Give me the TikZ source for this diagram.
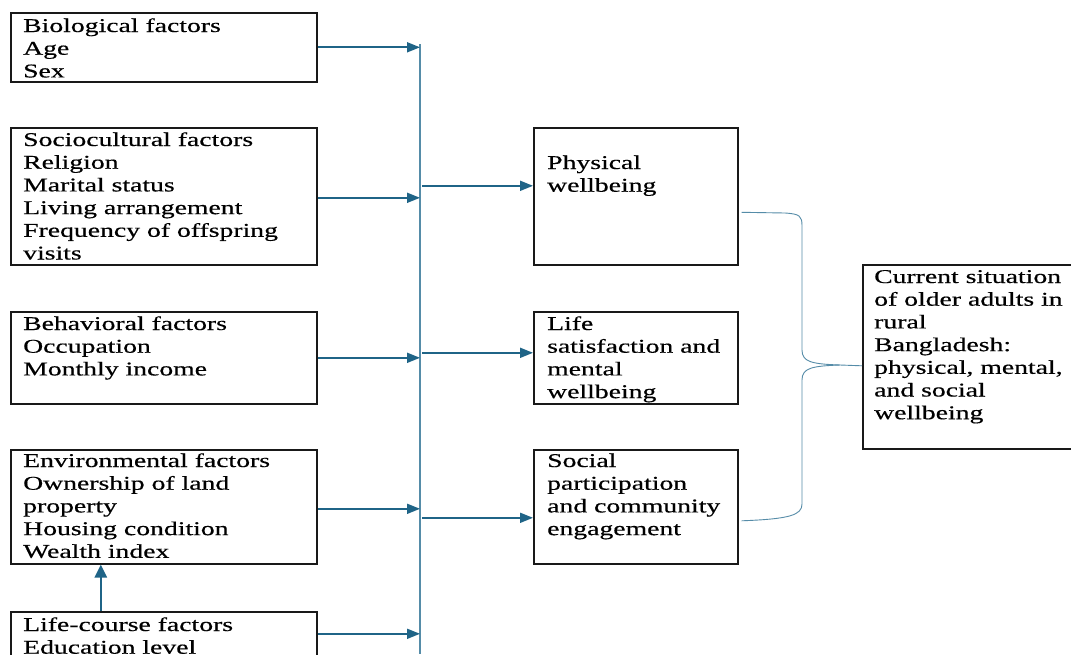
\documentclass[tikz,border=0pt]{standalone}
\usepackage{fontspec}
\setmainfont[FakeStretch=1.42,FakeBold=0.5]{Liberation Serif}
\usetikzlibrary{arrows.meta,calc}
\definecolor{arrowcol}{RGB}{31,100,135}
\definecolor{linecol}{RGB}{85,140,168}
\newcommand{\boxlines}[1]{\begin{tabular}[t]{@{}l@{}}#1\end{tabular}}
\begin{document}
\begin{tikzpicture}[x=1pt,y=-1pt,
  box/.style={draw=black!90,line width=1.6pt,rectangle,inner sep=0pt,anchor=north west},
  txt/.style={anchor=base west,inner sep=0pt,font=\fontsize{19.5}{22.7}\selectfont},
  arr/.style={draw=arrowcol,line width=1.8pt,-{Triangle[length=13pt,width=10pt]}},
  bigarr/.style={draw=arrowcol,line width=2.6pt,-{Triangle[length=13pt,width=12pt]}},
  bus/.style={draw=linecol,line width=1.4pt},
  brace/.style={draw=linecol,line width=0.9pt}]
\useasboundingbox[fill=white] (0,0) rectangle (1071,654);
% left boxes
\node[box,minimum width=306pt,minimum height=69pt] (b1) at (10,12) {};
\node[box,minimum width=306pt,minimum height=137pt] (b2) at (10,127) {};
\node[box,minimum width=306pt,minimum height=92pt] (b3) at (10,311) {};
\node[box,minimum width=306pt,minimum height=114pt] (b4) at (10,449) {};
\node[box,minimum width=306pt,minimum height=44pt] (b5) at (10,611) {};
% middle boxes
\node[box,minimum width=204pt,minimum height=137pt] (m1) at (533,127) {};
\node[box,minimum width=204pt,minimum height=92pt] (m2) at (533,311) {};
\node[box,minimum width=204pt,minimum height=114pt] (m3) at (533,449) {};
% right box
\node[box,minimum width=214pt,minimum height=184pt] (r) at (862,264) {};
% texts
\node[txt] (b1t) at ([xshift=13pt,yshift=-20pt]b1.north west) {\boxlines{Biological factors\\Age\\Sex}};
\node[txt] (b2t) at ([xshift=13pt,yshift=-19pt]b2.north west) {\boxlines{Sociocultural factors\\Religion\\Marital status\\Living arrangement\\Frequency of offspring\\visits}};
\node[txt] (b3t) at ([xshift=13pt,yshift=-19pt]b3.north west) {\boxlines{Behavioral factors\\Occupation\\Monthly income}};
\node[txt] (b4t) at ([xshift=13pt,yshift=-18pt]b4.north west) {\boxlines{Environmental factors\\Ownership of land\\property\\Housing condition\\Wealth index}};
\node[txt] (b5t) at ([xshift=13pt,yshift=-20pt]b5.north west) {\boxlines{Life-course factors\\Education level}};
\node[txt] (m1t) at ([xshift=14pt,yshift=-42pt]m1.north west) {\boxlines{Physical\\wellbeing}};
\node[txt] (m2t) at ([xshift=14pt,yshift=-19pt]m2.north west) {\boxlines{Life\\satisfaction and\\mental\\wellbeing}};
\node[txt] (m3t) at ([xshift=14pt,yshift=-18pt]m3.north west) {\boxlines{Social\\participation\\and community\\engagement}};
\node[txt] (rt) at ([xshift=12pt,yshift=-19pt]r.north west) {\boxlines{Current situation\\of older adults in\\rural\\Bangladesh:\\physical, mental,\\and social\\wellbeing}};
% bus
\coordinate (bustop) at (420,44);
\coordinate (busbot) at (420,654);
\draw[bus] (bustop) -- (busbot);
% arrows to bus
\draw[arr] (b1.east) -- (b1.east -| bustop);
\draw[arr] ([yshift=-1.5pt]b2.east) -- ([yshift=-1.5pt]b2.east -| bustop);
\draw[arr] (b3.east) -- (b3.east -| bustop);
\draw[arr] ([yshift=-2pt]b4.east) -- ([yshift=-2pt]b4.east -| bustop);
\draw[arr] (b5.east) -- (b5.east -| bustop);
% arrows from bus
\draw[arr] ([yshift=10.5pt,xshift=2pt]m1.west -| bustop) -- ([yshift=10.5pt]m1.west);
\draw[arr] ([yshift=5pt,xshift=2pt]m2.west -| bustop) -- ([yshift=5pt]m2.west);
\draw[arr] ([yshift=-11pt,xshift=2pt]m3.west -| bustop) -- ([yshift=-11pt]m3.west);
% life-course to environmental
\draw[bigarr] ([xshift=-63pt]b5.north) -- ([xshift=-63pt]b4.south);
% brace
\coordinate (tip) at ([yshift=-9pt]r.west);
\draw[brace] ([xshift=3pt,yshift=-16pt]m1.east) -- (785,213) .. controls (800,214) and (802,216) .. (802,226)
  -- (802,350) .. controls (802,362) and (812,364) .. (840,365) -- (tip);
\draw[brace] (840,365) .. controls (812,366) and (802,368) .. (802,380)
  -- (802,504) .. controls (802,515) and (790,519) .. ([xshift=3pt,yshift=-14pt]m3.east);
\end{tikzpicture}
\end{document}
